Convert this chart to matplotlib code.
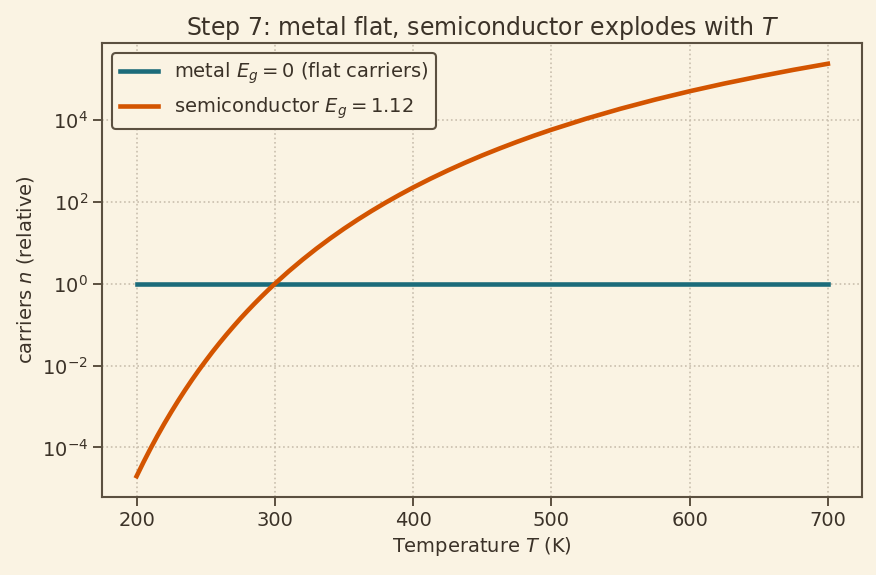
import matplotlib
matplotlib.use("Agg")
import matplotlib.pyplot as plt
from matplotlib.ticker import NullLocator

# temperature (K) and relative carrier density
temps = [200, 205, 210, 215, 220, 225, 230, 235, 240, 245, 250, 255, 260,
         265, 270, 275, 280, 285, 290, 295, 300, 310, 320, 330, 340, 350,
         360, 370, 380, 390, 400, 412.5, 425, 437.5, 450, 462.5, 475, 487.5,
         500, 525, 550, 575, 600, 625, 650, 675, 700]
semi_n = [1.98e-5, 4.37e-5, 9.3e-5, 1.91e-4, 3.8e-4, 7.31e-4, 1.37e-3,
          2.50e-3, 4.45e-3, 7.73e-3, 1.31e-2, 2.19e-2, 3.57e-2, 5.72e-2,
          9.0e-2, 0.140, 0.213, 0.320, 0.474, 0.693, 1.0, 2.01, 3.87, 7.17,
          12.8, 22.1, 37.0, 60.2, 95.6, 148, 225, 368, 585, 906, 1370, 2020,
          2925, 4160, 5800, 10770, 18900, 31600, 50600, 78000, 116000,
          168600, 238000]
metal_n = [1.0] * len(temps)

BG = "#faf3e3"
INK = "#3b3228"
EDGE = "#5b5040"

plt.rcParams.update({
    "font.family": ["DejaVu Sans"],
    "text.color": INK,
    "axes.labelcolor": INK,
    "xtick.color": INK,
    "ytick.color": INK,
})

fig = plt.figure(figsize=(8.76, 5.75), dpi=100, facecolor=BG)
ax = fig.add_axes([0.1165, 0.136, 0.868, 0.789])
ax.set_facecolor(BG)

ax.plot(temps, metal_n, color="#1b6b7a", lw=3.3, label=r"metal $E_g=0$ (flat carriers)")
ax.plot(temps, semi_n, color="#d35400", lw=3.3, label=r"semiconductor $E_g=1.12$")

ax.set_yscale("log")
ax.yaxis.set_minor_locator(NullLocator())
ax.set_yticks([1e-4, 1e-2, 1e0, 1e2, 1e4])
ax.yaxis.set_minor_locator(NullLocator())
ax.set_xticks([200, 300, 400, 500, 600, 700])

ax.grid(True, linestyle=":", color="#c9bfae", linewidth=1.2)
for s in ax.spines.values():
    s.set_color(EDGE)
    s.set_linewidth(1.5)
ax.tick_params(colors=INK, labelsize=14, length=6.5, width=1.4, color=EDGE)

ax.set_xlabel(r"Temperature $T$ (K)", fontsize=14)
ax.set_ylabel(r"carriers $n$ (relative)", fontsize=14)
ax.set_title(r"Step 7: metal flat, semiconductor explodes with $T$", fontsize=17, color=INK)

leg = ax.legend(loc="upper left", fontsize=14, facecolor=BG, edgecolor=EDGE,
                framealpha=1.0, fancybox=True)
leg.get_frame().set_linewidth(1.5)

fig.savefig("out.png", dpi=100, facecolor=BG)
